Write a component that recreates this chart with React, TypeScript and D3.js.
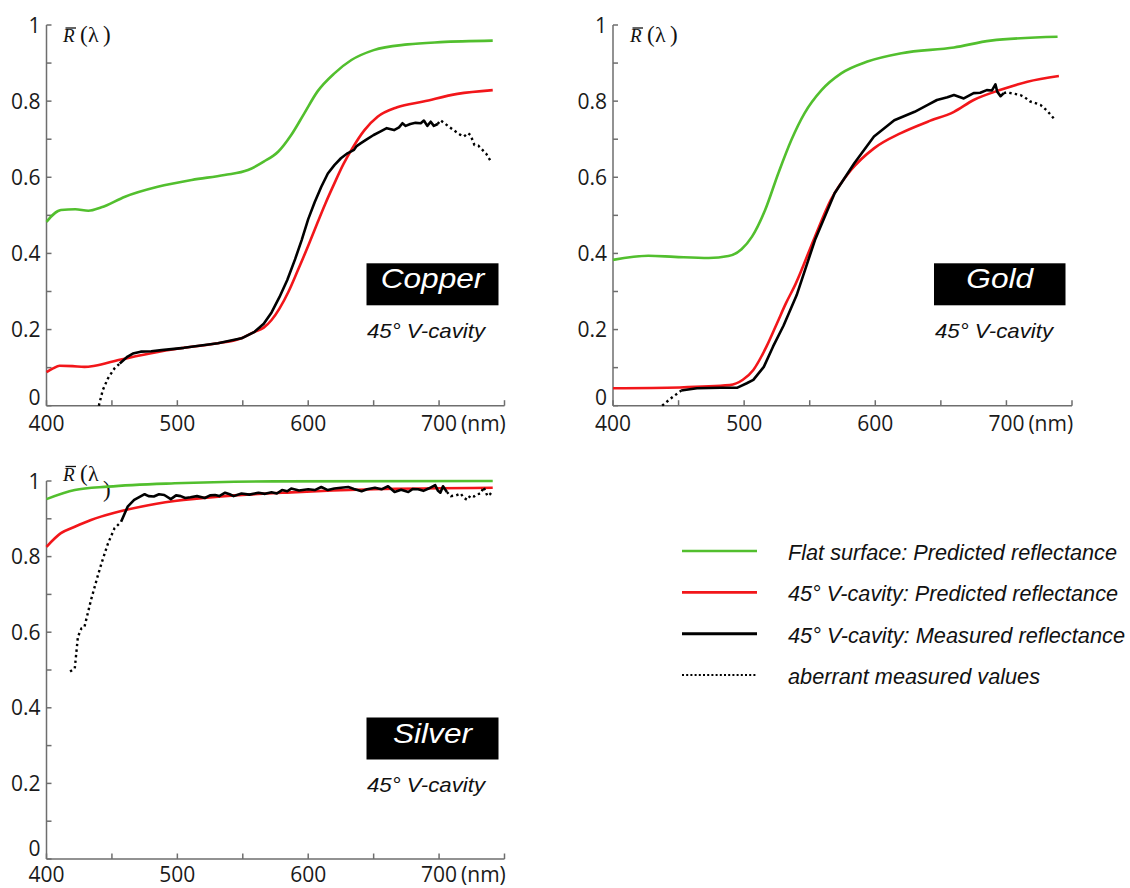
import React from 'react';
import * as d3 from 'd3';

type Pt = [number, number];

// ---------- data (wavelength nm, reflectance) ----------
const wavelengthTicks = [400, 450, 500, 550, 600, 650, 700, 750];
const wavelengthLabels = [400, 500, 600, 700];
const reflectanceTicks = [0, 0.1, 0.2, 0.3, 0.4, 0.5, 0.6, 0.7, 0.8, 0.9, 1];
const reflectanceLabels = [0, 0.2, 0.4, 0.6, 0.8, 1];

const copperFlat: Pt[] = [[400,0.483],[411,0.514],[422,0.516],[432,0.512],[442,0.521],[460,0.549],[485,0.575],[511,0.593],[536,0.606],[554,0.619],[566,0.641],[577,0.667],[587,0.711],[597,0.768],[607,0.825],[620,0.873],[633,0.908],[650,0.934],[676,0.949],[701,0.955],[741,0.959]];
const copperPredicted: Pt[] = [[400,0.088],[405,0.098],[410,0.105],[420,0.104],[429,0.102],[437,0.105],[455,0.12],[480,0.138],[505,0.152],[531,0.164],[549,0.177],[559,0.194],[566,0.205],[572,0.225],[578,0.255],[585,0.3],[592,0.355],[600,0.42],[607,0.48],[613,0.53],[620,0.584],[627,0.635],[633,0.672],[643,0.724],[653,0.759],[668,0.784],[688,0.799],[714,0.819],[741,0.829]];
const copperMeasured: Pt[] = [[456,0.111],[462,0.129],[466,0.137],[472,0.142],[480,0.143],[488,0.146],[505,0.152],[531,0.164],[549,0.177],[559,0.194],[566,0.215],[572,0.245],[578,0.285],[584,0.33],[590,0.385],[595,0.435],[600,0.49],[605,0.535],[610,0.575],[615,0.61],[620,0.632],[625,0.65],[630,0.663],[635,0.672],[637,0.682],[640,0.689],[645,0.7],[650,0.711],[655,0.72],[660,0.729],[665.6,0.724],[669.4,0.731],[672,0.742],[674.5,0.735],[678,0.74],[682,0.743],[686,0.742],[688.4,0.749],[691,0.735],[693.6,0.746],[696,0.735],[699,0.74]];
const copperAberrantLow: Pt[] = [[440,0],[443,0.041],[447,0.072],[452,0.098],[456,0.111]];
const copperAberrantHigh: Pt[] = [[699,0.74],[701,0.75],[706,0.737],[711,0.724],[716,0.712],[719,0.707],[722,0.716],[724,0.711],[727,0.685],[730,0.683],[732,0.676],[736,0.662],[739,0.645]];

const goldFlat: Pt[] = [[400,0.383],[427,0.394],[447,0.391],[473,0.388],[488,0.393],[498,0.411],[506,0.444],[516,0.514],[526,0.61],[536,0.698],[546,0.768],[559,0.829],[574,0.873],[594,0.904],[620,0.926],[660,0.941],[688,0.959],[739,0.969]];
const goldPredicted: Pt[] = [[400,0.046],[451,0.048],[489,0.054],[499,0.068],[507,0.094],[517,0.155],[525,0.216],[532,0.27],[539,0.318],[554,0.444],[566,0.54],[581.5,0.619],[599,0.676],[619.5,0.716],[640,0.746],[660,0.772],[675,0.803],[695,0.829],[716,0.851],[740,0.866]];
const goldMeasured: Pt[] = [[452,0.04],[464,0.046],[482,0.047],[494.5,0.047],[502,0.059],[507,0.068],[515,0.102],[522,0.155],[530,0.21],[535,0.25],[540,0.29],[554,0.435],[569,0.558],[584,0.637],[599,0.707],[614.5,0.75],[630,0.772],[640,0.79],[647,0.803],[655,0.81],[660,0.816],[667.5,0.807],[675,0.821],[680,0.822],[685,0.829],[689,0.828],[691.6,0.844],[693,0.825],[695.5,0.813],[698,0.821]];
const goldAberrantLow: Pt[] = [[437.5,0],[444,0.019],[451,0.037],[452,0.04]];
const goldAberrantHigh: Pt[] = [[698,0.821],[700,0.823],[705,0.82],[710.6,0.816],[714,0.81],[718,0.799],[722,0.795],[726,0.79],[731,0.775],[736,0.755]];

const silverFlat: Pt[] = [[400,0.952],[421.6,0.976],[447,0.985],[498,0.994],[574,0.999],[741,1.0]];
const silverPredicted: Pt[] = [[400,0.826],[411,0.862],[421.6,0.879],[434,0.897],[452,0.916],[472,0.932],[498,0.947],[536,0.96],[587,0.97],[650,0.978],[741,0.982]];
const silverMeasured: Pt[] = [[457,0.892],[462,0.932],[467,0.95],[475,0.965],[478,0.96],[482,0.959],[486,0.965],[490,0.963],[495,0.952],[499,0.962],[502.6,0.96],[506,0.955],[510,0.957],[515,0.96],[521,0.955],[525,0.962],[528.8,0.963],[532,0.96],[536.5,0.969],[540,0.965],[543,0.96],[549,0.967],[555,0.964],[562,0.969],[567,0.966],[572,0.97],[576,0.967],[580,0.976],[584,0.973],[587,0.98],[593,0.975],[600,0.978],[605,0.976],[610,0.984],[615,0.976],[620,0.98],[625,0.982],[630.6,0.984],[635,0.979],[640.8,0.973],[645,0.978],[651,0.982],[656,0.978],[661,0.986],[666,0.971],[671,0.977],[676.5,0.971],[680,0.979],[684,0.978],[688,0.974],[692,0.98],[697,0.989],[699,0.975],[701,0.969],[703,0.986],[706,0.971]];
const silverAberrantLow: Pt[] = [[418,0.496],[421.6,0.504],[424,0.588],[426.7,0.61],[429,0.614],[434,0.685],[439,0.747],[442,0.782],[447,0.835],[452,0.875],[457,0.892]];
const silverAberrantHigh: Pt[] = [[706,0.971],[709,0.96],[713,0.962],[716.5,0.967],[719,0.955],[721.6,0.95],[724,0.962],[726.7,0.959],[729,0.965],[732,0.967],[734,0.984],[737,0.96],[739,0.965],[741,0.974]];

const legendLabels = [
  'Flat surface: Predicted reflectance',
  '45° V-cavity: Predicted reflectance',
  '45° V-cavity: Measured reflectance',
  'aberrant measured values',
];

// ---------- styles ----------
const GREEN = '#52bf2e';
const RED = '#f2161a';
const BLACK = '#000000';
const AXIS = '#6e6e6e';
const LW = 2.6;
const DOT = '2.4 3.2';
const SANS = "'Liberation Sans', Arial, sans-serif";
const TICKFONT = "'Open Sans', 'Noto Sans', sans-serif";
const SERIF = "'Liberation Serif', 'DejaVu Serif', serif";

interface PanelSpec {
  name: string;
  x0: number; x1: number; yTop: number; yBot: number; xlOff: number; zeroLift: number;
  flat: Pt[]; pred: Pt[]; meas: Pt[]; abLow: Pt[]; abHigh: Pt[];
  box: { x: number; y: number; w: number; h: number };
  sub: { x: number; y: number };
  rl: { x: number; y: number; drop: number };
}

const panels: PanelSpec[] = [
  { name: 'Copper', x0: 46.5, x1: 504.5, yTop: 25, yBot: 405.7, xlOff: 25, zeroLift: 8,
    flat: copperFlat, pred: copperPredicted, meas: copperMeasured, abLow: copperAberrantLow, abHigh: copperAberrantHigh,
    box: { x: 366.5, y: 263.3, w: 132, h: 42 }, sub: { x: 367, y: 337.5 }, rl: { x: 63, y: 42, drop: 0 } },
  { name: 'Gold', x0: 613, x1: 1072, yTop: 25, yBot: 405.7, xlOff: 25, zeroLift: 8,
    flat: goldFlat, pred: goldPredicted, meas: goldMeasured, abLow: goldAberrantLow, abHigh: goldAberrantHigh,
    box: { x: 934, y: 263.3, w: 131.5, h: 42 }, sub: { x: 935, y: 337.5 }, rl: { x: 630, y: 42, drop: 0 } },
  { name: 'Silver', x0: 46.5, x1: 504.5, yTop: 481, yBot: 859, xlOff: 22.5, zeroLift: 11,
    flat: silverFlat, pred: silverPredicted, meas: silverMeasured, abLow: silverAberrantLow, abHigh: silverAberrantHigh,
    box: { x: 366.5, y: 717.5, w: 132, h: 42 }, sub: { x: 367, y: 791.5 }, rl: { x: 63, y: 480.5, drop: 16 } },
];

function Panel({ p }: { p: PanelSpec }) {
  const x = d3.scaleLinear().domain([400, 750]).range([p.x0, p.x1]);
  const y = d3.scaleLinear().domain([0, 1]).range([p.yBot, p.yTop]);
  const smooth = d3.line<Pt>().x(d => x(d[0])).y(d => y(d[1])).curve(d3.curveMonotoneX);
  const raw = d3.line<Pt>().x(d => x(d[0])).y(d => y(d[1]));
  const fmt = (v: number) => (v === 0 ? '0' : v === 1 ? '1' : d3.format('.1f')(v));
  const cx = p.box.x + p.box.w / 2;
  const rx = p.rl.x, ry = p.rl.y;
  return (
    <g>
      {/* axes */}
      <line x1={x(400)} x2={x(400)} y1={y(1)} y2={y(0)} stroke={AXIS} strokeWidth={1.5} />
      <line x1={x(400)} x2={x(750)} y1={y(0)} y2={y(0)} stroke={AXIS} strokeWidth={1.5} />
      {reflectanceTicks.map(t => (
        <line key={'yt' + t} x1={x(400)} x2={x(400) + 5} y1={y(t)} y2={y(t)} stroke={AXIS} strokeWidth={1.5} />
      ))}
      {wavelengthTicks.map(t => (
        <line key={'xt' + t} x1={x(t)} x2={x(t)} y1={y(0)} y2={y(0) - 5.5} stroke={AXIS} strokeWidth={1.5} />
      ))}
      {reflectanceLabels.map(t => (
        <text key={'yl' + t} x={x(400) - 6} y={y(t) + 7.5 - (t === 0 ? p.zeroLift : 0)} textAnchor="end"
          fontFamily={TICKFONT} fontSize={21} fill="#1a1a1a">{fmt(t)}</text>
      ))}
      {wavelengthLabels.map(t => (
        <text key={'xl' + t} x={x(t)} y={y(0) + p.xlOff} textAnchor="middle"
          fontFamily={TICKFONT} fontSize={21} fill="#1a1a1a">{t}</text>
      ))}
      <text x={x(700) + 22} y={y(0) + p.xlOff} fontFamily={TICKFONT} fontSize={21} fill="#1a1a1a">(nm)</text>

      {/* R(λ) label */}
      <text fontFamily={SERIF} fill="#111">
        <tspan x={rx} y={ry} fontStyle="italic" fontSize={19}>R</tspan>
        <tspan x={rx + 17} y={ry} fontSize={23}>(</tspan>
        <tspan x={rx + 25} y={ry} fontSize={22}>λ</tspan>
        <tspan x={rx + 40} y={ry + p.rl.drop} fontSize={23}>)</tspan>
      </text>
      <line x1={rx + 2.5} x2={rx + 13} y1={ry - 14} y2={ry - 14} stroke="#111" strokeWidth={1.3} />

      {/* series */}
      <path d={smooth(p.flat) || ''} fill="none" stroke={GREEN} strokeWidth={LW} />
      <path d={smooth(p.pred) || ''} fill="none" stroke={RED} strokeWidth={LW} />
      <path d={raw(p.meas) || ''} fill="none" stroke={BLACK} strokeWidth={LW} strokeLinejoin="round" />
      <path d={raw(p.abLow) || ''} fill="none" stroke={BLACK} strokeWidth={2.4} strokeDasharray={DOT} />
      <path d={raw(p.abHigh) || ''} fill="none" stroke={BLACK} strokeWidth={2.4} strokeDasharray={DOT} />

      {/* name box */}
      <rect x={p.box.x} y={p.box.y} width={p.box.w} height={p.box.h} fill="#000" />
      <text transform={`translate(${cx},${p.box.y + 25}) scale(1.13,1)`} textAnchor="middle"
        fontFamily={SANS} fontStyle="italic" fontSize={28} fill="#fff">{p.name}</text>
      <text x={p.sub.x} y={p.sub.y} fontFamily={SANS} fontStyle="italic" fontSize={21}
        textLength={118} lengthAdjust="spacingAndGlyphs" fill="#111">45° V-cavity</text>
    </g>
  );
}

const legendStyles = [
  { color: GREEN, dash: undefined as string | undefined, w: 2.6, len: 329 },
  { color: RED, dash: undefined as string | undefined, w: 2.6, len: 330 },
  { color: BLACK, dash: undefined as string | undefined, w: 3, len: 337 },
  { color: BLACK, dash: '2 2.2' as string | undefined, w: 2.2, len: 252 },
];

export default function App() {
  const ly = d3.scaleLinear().domain([0, 3]).range([551, 675]);
  return (
    <svg width={1130} height={888} viewBox="0 0 1130 888"
      style={{ position: 'absolute', left: 0, top: 0, background: '#fff' }}>
      <rect width={1130} height={888} fill="#fff" />
      {panels.map(p => <Panel key={p.name} p={p} />)}
      {legendLabels.map((lab, i) => (
        <g key={lab}>
          <line x1={682} x2={757} y1={ly(i)} y2={ly(i)} stroke={legendStyles[i].color}
            strokeWidth={legendStyles[i].w} strokeDasharray={legendStyles[i].dash} />
          <text x={788} y={ly(i) + 9} fontFamily={SANS} fontStyle="italic" fontSize={22}
            textLength={legendStyles[i].len} lengthAdjust="spacingAndGlyphs" fill="#111">{lab}</text>
        </g>
      ))}
    </svg>
  );
}
